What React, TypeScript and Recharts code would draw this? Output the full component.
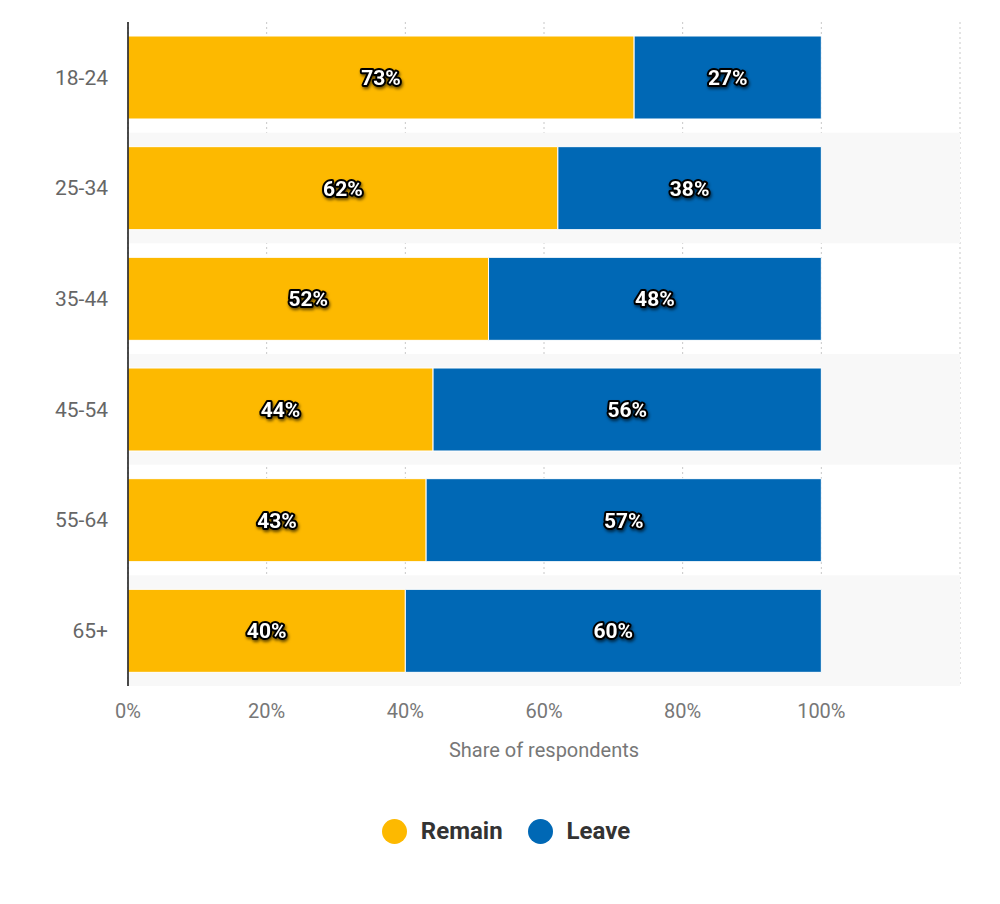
import React from 'react';
import { BarChart, Bar, XAxis, YAxis, CartesianGrid, Legend, LabelList, ReferenceArea } from 'recharts';

const categories = ['18-24', '25-34', '35-44', '45-54', '55-64', '65+'];
const remainValues = [73, 62, 52, 44, 43, 40];
const leaveValues = [27, 38, 48, 56, 57, 60];
const xTicks = [0, 20, 40, 60, 80, 100, 120];
const shadedCategories = ['25-34', '45-54', '65+'];

const REMAIN = '#FDB900';
const LEAVE = '#0068B5';
const FONT = 'Roboto, "Noto Sans", sans-serif';

const data = categories.map((c, i) => ({ name: c, remain: remainValues[i], leave: leaveValues[i] }));

const renderLabel = (props: any) => {
  const { x, y, width, height, value } = props;
  const cx = Number(x) + Number(width) / 2;
  const cy = Number(y) + Number(height) / 2;
  return (
    <text
      x={cx}
      y={cy}
      dy="0.35em"
      textAnchor="middle"
      fill="#fff"
      stroke="#000"
      strokeWidth={4}
      strokeLinejoin="round"
      paintOrder="stroke"
      fontFamily={FONT}
      fontWeight={700}
      fontSize={21}
      style={{ filter: 'drop-shadow(1px 2px 1.5px rgba(0,0,0,0.6))' }}
    >
      {value}%
    </text>
  );
};

const renderLegend = () => (
  <div style={{ display: 'flex', justifyContent: 'center', alignItems: 'center', height: 50, fontFamily: FONT, paddingLeft: 52 }}>
    {[['Remain', REMAIN], ['Leave', LEAVE]].map(([label, color]) => (
      <div key={label} style={{ display: 'flex', alignItems: 'center', marginRight: label === 'Remain' ? 25 : 0 }}>
        <span style={{ display: 'inline-block', width: 25, height: 25, borderRadius: '50%', background: color, marginRight: 14 }} />
        <span style={{ fontSize: 24, fontWeight: 700, color: '#333' }}>{label}</span>
      </div>
    ))}
  </div>
);

export default function App() {
  return (
    <div style={{ position: 'absolute', left: 0, top: 0, background: '#fff' }}>
      <BarChart
        width={1000}
        height={904}
        data={data}
        layout="vertical"
        margin={{ top: 22, right: 40, left: 0, bottom: 48 }}
        barSize={83}
      >
        {shadedCategories.map((c) => (
          <ReferenceArea key={c} y1={c} y2={c} x1={0} x2={120} fill="#f8f8f8" fillOpacity={1} stroke="none" ifOverflow="extendDomain" />
        ))}
        <CartesianGrid horizontal={false} vertical stroke="#c8c8c8" strokeDasharray="2 3" />
        <XAxis
          type="number"
          domain={[0, 120]}
          ticks={xTicks}
          tickFormatter={(v: number) => (v === 120 ? '' : `${v}%`)}
          axisLine={false}
          tickLine={false}
          tickSize={0}
          tickMargin={18}
          height={120}
          tick={{ fill: '#777', fontSize: 20, fontFamily: FONT }}
          label={{ value: 'Share of respondents', position: 'insideTop', offset: 57, fill: '#777', fontSize: 20, fontFamily: FONT }}
        />
        <YAxis
          type="category"
          dataKey="name"
          width={128}
          axisLine={{ stroke: '#111', strokeWidth: 1.5 }}
          tickLine={false}
          tickSize={0}
          tickMargin={20}
          tick={{ fill: '#666', fontSize: 21, fontFamily: FONT }}
        />
        <Legend verticalAlign="bottom" content={renderLegend} />
        <Bar dataKey="remain" name="Remain" stackId="a" fill={REMAIN} stroke="#fff" strokeWidth={1} isAnimationActive={false}>
          <LabelList dataKey="remain" content={renderLabel} />
        </Bar>
        <Bar dataKey="leave" name="Leave" stackId="a" fill={LEAVE} stroke="#fff" strokeWidth={1} isAnimationActive={false}>
          <LabelList dataKey="leave" content={renderLabel} />
        </Bar>
      </BarChart>
    </div>
  );
}
